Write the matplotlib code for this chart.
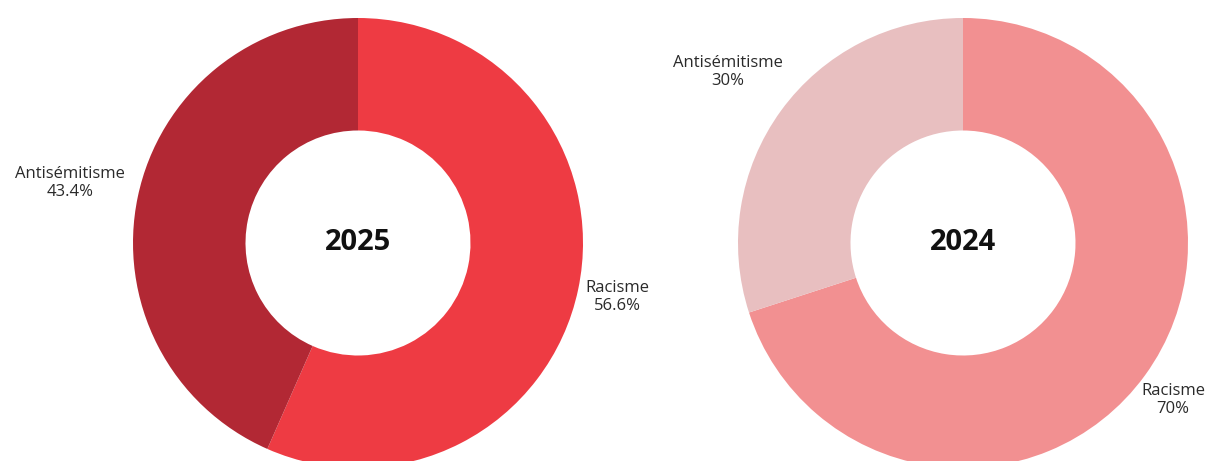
import matplotlib
matplotlib.use("Agg")
import matplotlib.pyplot as plt

plt.rcParams['font.family'] = ['Open Sans', 'DejaVu Sans']

# share of incidents per year
years = ["2025", "2024"]
categories = ["Racisme", "Antisémitisme"]
shares_2025 = [56.6, 43.4]
shares_2024 = [70, 30]
colors_2025 = ["#ee3b43", "#b22834"]
colors_2024 = ["#f29091", "#e8bfc0"]

W, H = 1215, 461
fig = plt.figure(figsize=(W / 100, H / 100), dpi=100)
ax = fig.add_axes([0, 0, 1, 1])

radius = 225
centers = [(358, H - 243), (963, H - 243)]
# label centres (pixels from top-left) for each slice
label_pos = [
    [(617, 297), (70, 183)],
    [(1173, 400), (728, 72)],
]

for year, shares, cols, (cx, cy), lpos in zip(
        years, [shares_2025, shares_2024], [colors_2025, colors_2024], centers, label_pos):
    ax.pie(shares, colors=cols, startangle=90, counterclock=False,
           center=(cx, cy), radius=radius, frame=True,
           wedgeprops=dict(width=radius * 0.5, linewidth=0))
    ax.text(cx, cy, year, ha='center', va='center', fontsize=21,
            fontweight='bold', color='#111111')
    for cat, val, (lx, ly) in zip(categories, shares, lpos):
        ax.text(lx, H - ly, f"{cat}\n{val:g}%", ha='center', va='center',
                fontsize=12, color='#2a2a2a', linespacing=1.2)

ax.set_xlim(0, W)
ax.set_ylim(0, H)
ax.set_aspect('equal')
ax.axis('off')

fig.savefig("out.png", dpi=100)
